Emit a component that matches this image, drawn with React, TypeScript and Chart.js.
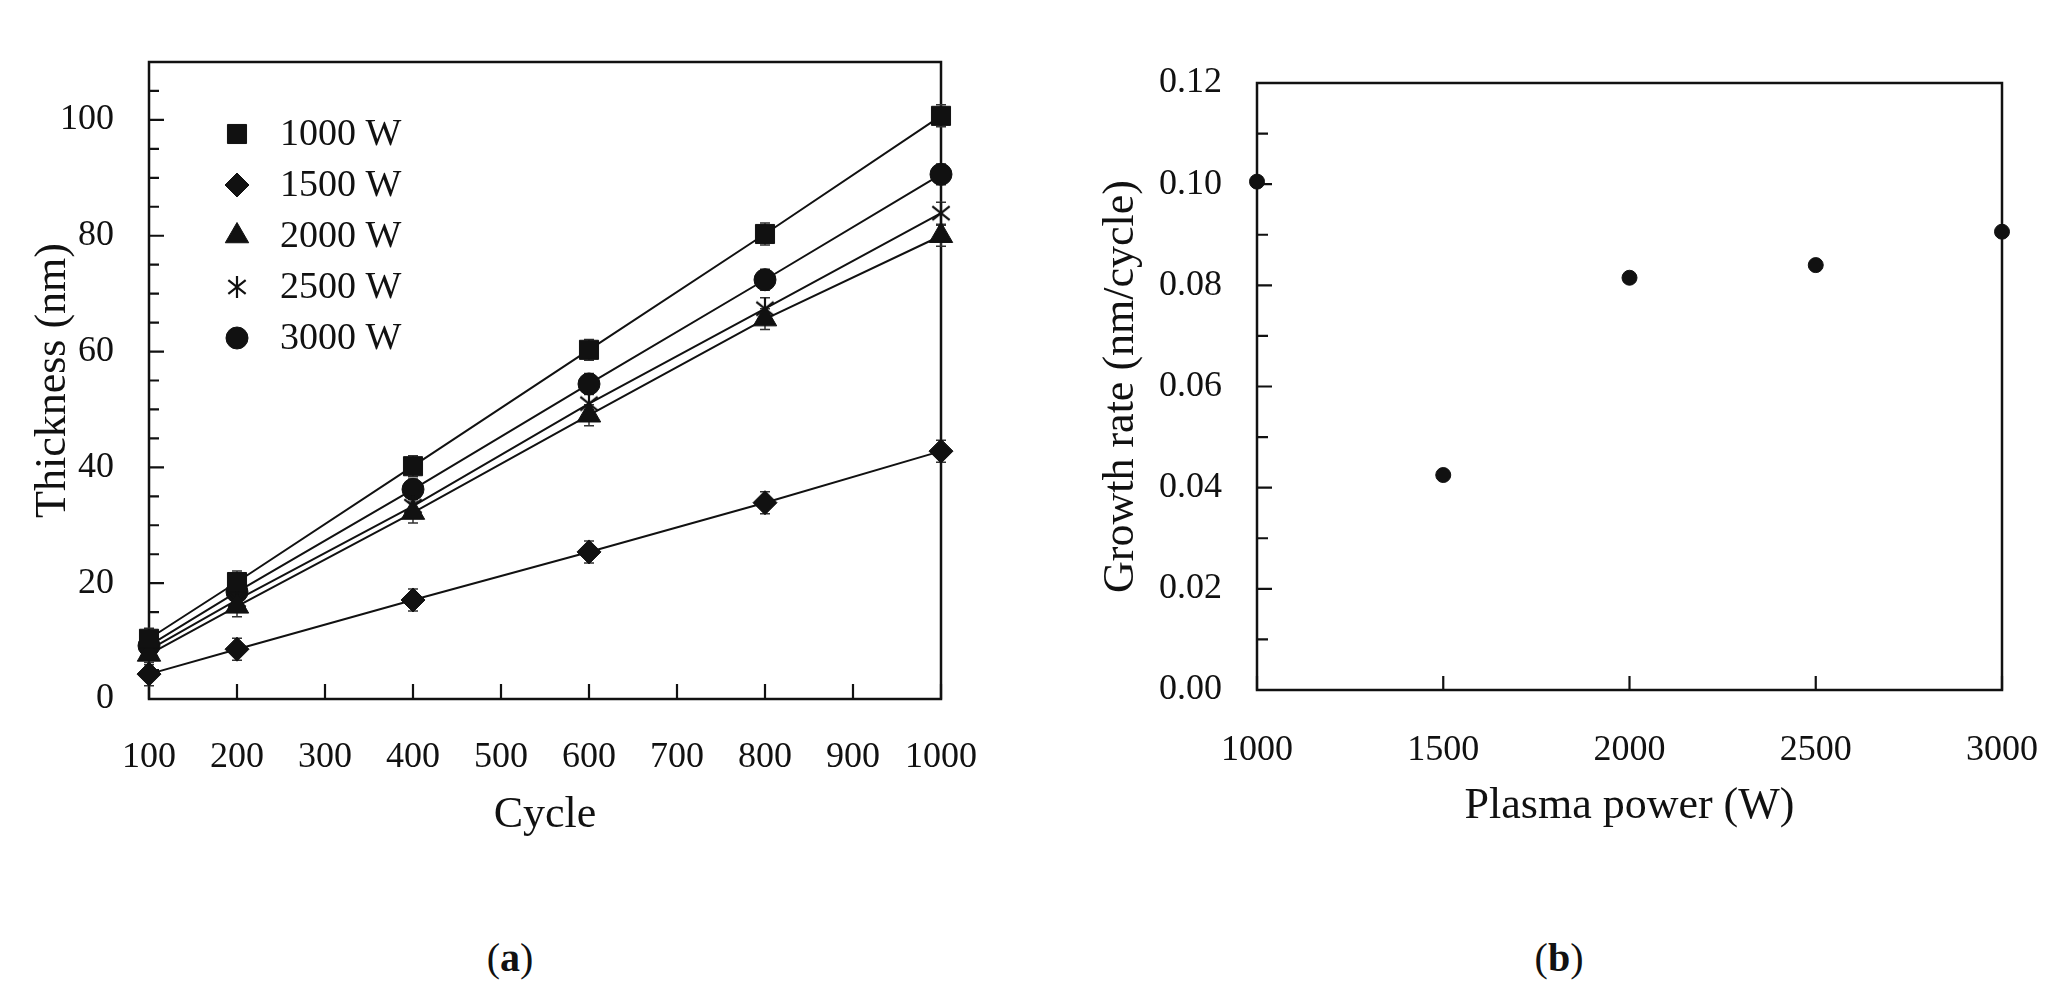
import React, { useEffect, useRef } from 'react';
import { Chart, registerables } from 'chart.js';

Chart.register(...registerables);

const FONT = "'Liberation Serif', 'Times New Roman', serif";
const INK = '#111111';

// ---------- Panel (a): thickness vs cycle ----------
const cycles = [100, 200, 400, 600, 800, 1000];
const seriesLabels = ['1000 W', '1500 W', '2000 W', '2500 W', '3000 W'];
const thick1000 = [10.4, 20.2, 40.2, 60.3, 80.3, 100.7];
const thick1500 = [4.3, 8.6, 17.1, 25.4, 33.9, 42.8];
const thick2000 = [7.7, 16.0, 32.2, 49.0, 65.6, 80.0];
const thick2500 = [8.5, 17.1, 33.3, 51.0, 67.4, 83.9];
const thick3000 = [9.2, 18.5, 36.2, 54.4, 72.4, 90.6];
const err1000 = [1.8, 1.9, 1.8, 1.8, 1.9, 1.9];
const err1500 = [2.0, 1.9, 1.9, 1.9, 1.9, 1.9];
const err2000 = [1.8, 1.8, 1.8, 1.8, 1.8, 1.8];
const err2500 = [1.8, 1.8, 1.8, 1.8, 1.9, 1.9];
const err3000 = [1.8, 1.8, 1.8, 1.8, 1.8, 1.8];
const xTicksA = [100, 200, 300, 400, 500, 600, 700, 800, 900, 1000];
const yTicksA = [0, 20, 40, 60, 80, 100];

// ---------- Panel (b): growth rate vs plasma power ----------
const plasmaPower = [1000, 1500, 2000, 2500, 3000];
const growthRate = [0.1005, 0.0425, 0.0815, 0.084, 0.0906];
const xTicksB = [1000, 1500, 2000, 2500, 3000];
const yTicksB = [0, 0.02, 0.04, 0.06, 0.08, 0.1, 0.12];

function makeStar(size: number): HTMLCanvasElement {
  const c = document.createElement('canvas');
  c.width = size;
  c.height = size;
  const g = c.getContext('2d')!;
  g.strokeStyle = INK;
  g.lineWidth = 2.2;
  g.lineCap = 'butt';
  const m = size / 2;
  const h = size / 2 - 1;
  g.beginPath();
  g.moveTo(m, m - h);
  g.lineTo(m, m + h);
  const a = (38 * Math.PI) / 180;
  g.moveTo(m - h * Math.cos(a), m - h * Math.sin(a));
  g.lineTo(m + h * Math.cos(a), m + h * Math.sin(a));
  g.moveTo(m - h * Math.cos(a), m + h * Math.sin(a));
  g.lineTo(m + h * Math.cos(a), m - h * Math.sin(a));
  g.stroke();
  return c;
}

function drawMarker(ctx: CanvasRenderingContext2D, style: any, x: number, y: number, r: number) {
  ctx.save();
  ctx.fillStyle = INK;
  ctx.strokeStyle = INK;
  ctx.lineWidth = 1;
  if (style instanceof HTMLCanvasElement) {
    ctx.drawImage(style, x - style.width / 2, y - style.height / 2);
    ctx.restore();
    return;
  }
  ctx.beginPath();
  if (style === 'rect') {
    const s = r * Math.SQRT1_2;
    ctx.rect(x - s, y - s, 2 * s, 2 * s);
  } else if (style === 'rectRot') {
    ctx.moveTo(x, y - r);
    ctx.lineTo(x + r, y);
    ctx.lineTo(x, y + r);
    ctx.lineTo(x - r, y);
    ctx.closePath();
  } else if (style === 'triangle') {
    ctx.moveTo(x, y - r);
    ctx.lineTo(x + r * Math.sin((2 * Math.PI) / 3), y + r * 0.5);
    ctx.lineTo(x - r * Math.sin((2 * Math.PI) / 3), y + r * 0.5);
    ctx.closePath();
  } else {
    ctx.arc(x, y, r, 0, Math.PI * 2);
  }
  ctx.fill();
  ctx.stroke();
  ctx.restore();
}

const frameTicksPlugin = {
  id: 'frameTicks',
  beforeDatasetsDraw(chart: any, _args: any, opts: any) {
    const { ctx, chartArea } = chart;
    const { left, right, top, bottom } = chartArea;
    const xs = chart.scales.x;
    const ys = chart.scales.y;
    ctx.save();
    ctx.strokeStyle = INK;
    ctx.lineWidth = 2.5;
    ctx.strokeRect(left, top, right - left, bottom - top);
    ctx.lineWidth = 2.2;
    ctx.beginPath();
    (opts.xTicks || []).forEach((v: number) => {
      const px = xs.getPixelForValue(v);
      ctx.moveTo(px, bottom);
      ctx.lineTo(px, bottom - opts.xLen);
    });
    (opts.yMinor || []).forEach((v: number) => {
      const py = ys.getPixelForValue(v);
      ctx.moveTo(left, py);
      ctx.lineTo(left + opts.minorLen, py);
    });
    (opts.yMajor || []).forEach((v: number) => {
      const py = ys.getPixelForValue(v);
      ctx.moveTo(left, py);
      ctx.lineTo(left + opts.majorLen, py);
    });
    ctx.stroke();
    ctx.restore();
  },
};

const errorBarPlugin = {
  id: 'errorBars',
  beforeDatasetsDraw(chart: any, _args: any, opts: any) {
    if (!opts || !opts.errors) return;
    const { ctx } = chart;
    const ys = chart.scales.y;
    ctx.save();
    ctx.strokeStyle = '#333333';
    ctx.lineWidth = 1.5;
    chart.data.datasets.forEach((ds: any, i: number) => {
      const errs = opts.errors[i];
      const meta = chart.getDatasetMeta(i);
      meta.data.forEach((pt: any, j: number) => {
        const v = ds.data[j].y;
        const e = errs[j];
        const y1 = ys.getPixelForValue(v + e);
        const y2 = ys.getPixelForValue(v - e);
        ctx.beginPath();
        ctx.moveTo(pt.x, y1);
        ctx.lineTo(pt.x, y2);
        ctx.moveTo(pt.x - 5, y1);
        ctx.lineTo(pt.x + 5, y1);
        ctx.moveTo(pt.x - 5, y2);
        ctx.lineTo(pt.x + 5, y2);
        ctx.stroke();
      });
    });
    ctx.restore();
  },
};

const innerLegendPlugin = {
  id: 'innerLegend',
  afterDraw(chart: any, _args: any, opts: any) {
    if (!opts || !opts.show) return;
    const { ctx, chartArea } = chart;
    ctx.save();
    chart.data.datasets.forEach((ds: any, i: number) => {
      const y = chartArea.top + opts.top + i * opts.spacing;
      const x = chartArea.left + opts.markerX;
      drawMarker(ctx, ds.pointStyle, x, y, ds.pointRadius);
      ctx.fillStyle = INK;
      ctx.font = `38px ${FONT}`;
      ctx.textBaseline = 'middle';
      ctx.textAlign = 'left';
      ctx.fillText(ds.label, chartArea.left + opts.textX, y + 1);
    });
    ctx.restore();
  },
};

const plainNumber = (v: any) => String(v);

const fixX = (h: number) => (s: any) => {
  s.height = h;
  s.paddingLeft = 0;
  s.paddingRight = 0;
};
const fixY = (w: number) => (s: any) => {
  s.width = w;
  s.paddingTop = 0;
  s.paddingBottom = 0;
};

function PanelA() {
  const ref = useRef<HTMLCanvasElement | null>(null);
  useEffect(() => {
    const star = makeStar(24);
    const values = [thick1000, thick1500, thick2000, thick2500, thick3000];
    const styles: any[] = ['rect', 'rectRot', 'triangle', star, 'circle'];
    const radii = [13.5, 12, 13.5, 12, 11];
    const chart = new Chart(ref.current!, {
      type: 'line',
      data: {
        datasets: values.map((vals, i) => ({
          label: seriesLabels[i],
          data: cycles.map((c, j) => ({ x: c, y: vals[j] })),
          borderColor: INK,
          borderWidth: 2,
          backgroundColor: INK,
          pointStyle: styles[i],
          pointRadius: radii[i],
          pointBackgroundColor: INK,
          pointBorderColor: INK,
          pointBorderWidth: 1,
          tension: 0,
          fill: false,
          clip: false as any,
        })),
      },
      options: {
        responsive: false,
        animation: false,
        events: [],
        layout: { padding: { top: 62, right: 59, bottom: 0, left: 0 } },
        plugins: {
          legend: { display: false },
          tooltip: { enabled: false },
          frameTicks: {
            xTicks: xTicksA,
            xLen: 15,
            yMajor: yTicksA,
            yMinor: [5, 10, 15, 25, 30, 35, 45, 50, 55, 65, 70, 75, 85, 90, 95, 105],
            majorLen: 15,
            minorLen: 10,
          },
          errorBars: { errors: [err1000, err1500, err2000, err2500, err3000] },
          innerLegend: { show: true, top: 72, spacing: 51, markerX: 88, textX: 131 },
        } as any,
        scales: {
          x: {
            type: 'linear',
            min: 100,
            max: 1000,
            grid: { display: false },
            border: { display: false },
            afterBuildTicks: (s: any) => {
              s.ticks = xTicksA.map((v) => ({ value: v }));
            },
            afterFit: fixX(143),
            ticks: {
              autoSkip: false,
              maxRotation: 0,
              padding: 29,
              color: INK,
              font: { family: FONT, size: 36 },
              callback: plainNumber,
            },
            title: {
              display: true,
              text: 'Cycle',
              color: INK,
              font: { family: FONT, size: 44 },
              padding: { top: 0, bottom: 0 },
            },
          },
          y: {
            type: 'linear',
            min: 0,
            max: 110,
            grid: { display: false },
            border: { display: false },
            afterBuildTicks: (s: any) => {
              s.ticks = yTicksA.map((v) => ({ value: v }));
            },
            afterFit: fixY(149),
            ticks: {
              autoSkip: false,
              padding: 27,
              color: INK,
              font: { family: FONT, size: 36 },
              callback: plainNumber,
            },
            title: {
              display: true,
              text: 'Thickness (nm)',
              color: INK,
              font: { family: FONT, size: 44 },
              padding: { top: 27, bottom: 0 },
            },
          },
        },
      },
      plugins: [frameTicksPlugin, errorBarPlugin, innerLegendPlugin],
    });
    return () => chart.destroy();
  }, []);
  return (
    <canvas
      ref={ref}
      width={1000}
      height={842}
      style={{ position: 'absolute', left: 0, top: 0, display: 'block' }}
    />
  );
}

function PanelB() {
  const ref = useRef<HTMLCanvasElement | null>(null);
  useEffect(() => {
    const chart = new Chart(ref.current!, {
      type: 'scatter',
      data: {
        datasets: [
          {
            label: 'Growth rate',
            data: plasmaPower.map((p, j) => ({ x: p, y: growthRate[j] })),
            pointStyle: 'circle',
            pointRadius: 7.5,
            pointBackgroundColor: INK,
            pointBorderColor: INK,
            pointBorderWidth: 1,
            showLine: false,
            clip: false as any,
          },
        ],
      },
      options: {
        responsive: false,
        animation: false,
        events: [],
        layout: { padding: { top: 83, right: 58, bottom: 0, left: 0 } },
        plugins: {
          legend: { display: false },
          tooltip: { enabled: false },
          frameTicks: {
            xTicks: xTicksB,
            xLen: 14,
            yMajor: yTicksB,
            yMinor: [0.01, 0.03, 0.05, 0.07, 0.09, 0.11],
            majorLen: 15,
            minorLen: 11,
          },
        } as any,
        scales: {
          x: {
            type: 'linear',
            min: 1000,
            max: 3000,
            grid: { display: false },
            border: { display: false },
            afterBuildTicks: (s: any) => {
              s.ticks = xTicksB.map((v) => ({ value: v }));
            },
            afterFit: fixX(143),
            ticks: {
              autoSkip: false,
              maxRotation: 0,
              padding: 31,
              color: INK,
              font: { family: FONT, size: 36 },
              callback: plainNumber,
            },
            title: {
              display: true,
              text: 'Plasma power (W)',
              color: INK,
              font: { family: FONT, size: 44 },
              padding: { top: 0, bottom: 0 },
            },
          },
          y: {
            type: 'linear',
            min: 0,
            max: 0.12,
            grid: { display: false },
            border: { display: false },
            afterBuildTicks: (s: any) => {
              s.ticks = yTicksB.map((v) => ({ value: v }));
            },
            afterFit: fixY(197),
            ticks: {
              autoSkip: false,
              padding: 27,
              color: INK,
              font: { family: FONT, size: 36 },
              callback: (v: any) => Number(v).toFixed(2),
            },
            title: {
              display: true,
              text: 'Growth rate (nm/cycle)',
              color: INK,
              font: { family: FONT, size: 44 },
              padding: { top: 35, bottom: 0 },
            },
          },
        },
      },
      plugins: [frameTicksPlugin],
    });
    return () => chart.destroy();
  }, []);
  return (
    <canvas
      ref={ref}
      width={1000}
      height={833}
      style={{ position: 'absolute', left: 1060, top: 0, display: 'block' }}
    />
  );
}

function Caption({ letter, x, y }: { letter: string; x: number; y: number }) {
  return (
    <div
      style={{
        position: 'absolute',
        left: x,
        top: y,
        transform: 'translate(-50%, -50%)',
        fontFamily: FONT,
        fontSize: 40,
        lineHeight: 1,
        color: INK,
        whiteSpace: 'nowrap',
      }}
    >
      (<b>{letter}</b>)
    </div>
  );
}

export default function App() {
  useEffect(() => {
    document.body.style.margin = '0';
    document.body.style.background = '#ffffff';
  }, []);
  return (
    <div style={{ position: 'relative', width: 2064, height: 1003, overflow: 'hidden', background: '#fff' }}>
      <PanelA />
      <PanelB />
      <Caption letter="a" x={510} y={958} />
      <Caption letter="b" x={1559} y={958} />
    </div>
  );
}
